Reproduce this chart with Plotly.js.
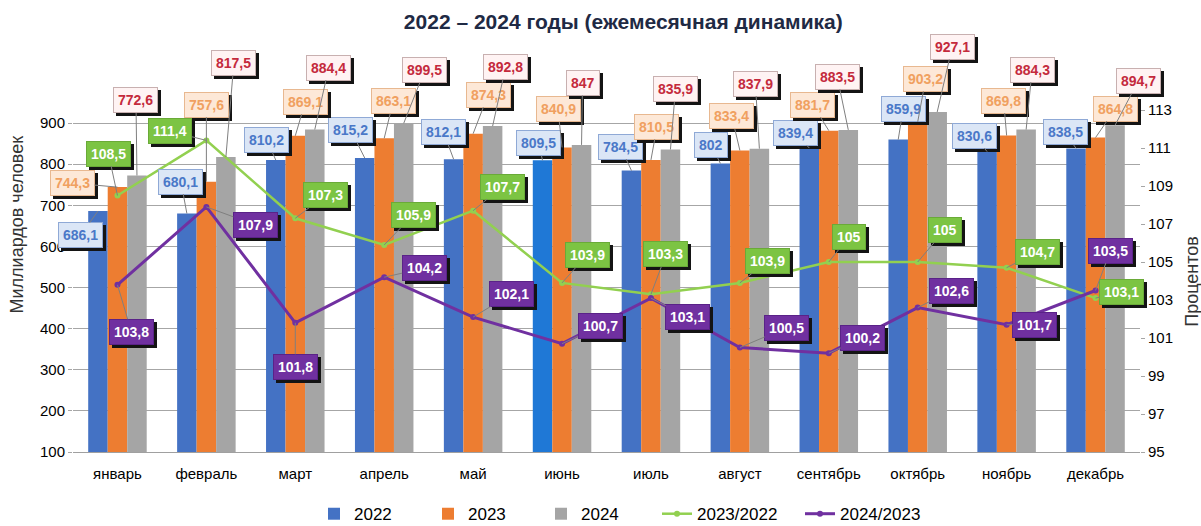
<!DOCTYPE html>
<html>
<head>
<meta charset="utf-8">
<script src="https://cdn.plot.ly/plotly-3.0.1.min.js"></script>
<style>
  html, body { margin: 0; padding: 0; background: #ffffff; }
  #chart { width: 1201px; height: 526px; }
</style>
</head>
<body>
<div id="chart"></div>
<script>
// months and values
const months = ['январь', 'февраль', 'март', 'апрель', 'май', 'июнь',
                'июль', 'август', 'сентябрь', 'октябрь', 'ноябрь', 'декабрь'];
const y2022 = [686.1, 680.1, 810.2, 815.2, 812.1, 809.5, 784.5, 802, 839.4, 859.9, 830.6, 838.5];
const y2023 = [744.3, 757.6, 869.1, 863.1, 874.3, 840.9, 810.5, 833.4, 881.7, 903.2, 869.8, 864.8];
const y2024 = [772.6, 817.5, 884.4, 899.5, 892.8, 847, 835.9, 837.9, 883.5, 927.1, 884.3, 894.7];
const r2023_2022 = [108.5, 111.4, 107.3, 105.9, 107.7, 103.9, 103.3, 103.9, 105, 105, 104.7, 103.1];
const r2024_2023 = [103.8, 107.9, 101.8, 104.2, 102.1, 100.7, 103.1, 100.5, 100.2, 102.6, 101.7, 103.5];
const leftTicks = [100, 200, 300, 400, 500, 600, 700, 800, 900];
const rightTicks = [95, 97, 99, 101, 103, 105, 107, 109, 111, 113];

// label box offsets (px) from the point, by hand
const off2022 = [[-17,24],[-6,-32],[-9,-20],[-14,-28],[-10,-27],[-4,-17],[-11,-24],[-9,-18],[-14,-15],[5,-31],[-13,-16],[-11,-16]];
const off2023 = [[-45,-4],[0,-77],[10,-34],[9,-37],[15,-39],[-4,-38],[6,-33],[-8,-34],[-16,-26],[8,-43],[-3,-35],[20,-29]];
const off2024 = [[-1,-75],[8,-94],[14,-62],[21,-53],[13,-59],[1,-62],[5,-60],[-4,-65],[-11,-53],[15,-65],[6,-60],[23,-44]];
const offG = [[-9,-42],[-36,-9],[30,-23],[29,-30],[29,-24],[25,-28],[15,-40],[28,-22],[20,-25],[27,-32],[31,-16],[26,-6]];
const offP = [[14,47],[49,18],[0,44],[40,-9],[38,-23],[38,-18],[37,19],[47,-20],[34,-15],[34,-17],[28,0],[15,-40]];

const FONT = '"Liberation Sans", Arial, sans-serif';
const margin = { l: 73, r: 61, t: 82, b: 74, autoexpand: false };
const bargap = 0.342;
const plotW = 1201 - margin.l - margin.r;
const slot = plotW / months.length * (1 - bargap) / 3;
const px2x = p => (p - margin.l) / plotW;

const blue2022 = months.map((m, i) => i === 5 ? '#1f78d6' : '#4472c4');

const traces = [
    { x: months, y: y2022, type: 'bar', name: '2022', legend: 'legend', marker: { color: blue2022 } },
    { x: months, y: y2023, type: 'bar', name: '2023', legend: 'legend2', marker: { color: '#ed7d31' } },
    { x: months, y: y2024, type: 'bar', name: '2024', legend: 'legend3', marker: { color: '#a5a5a5' } },
    { x: months, y: r2023_2022, type: 'scatter', mode: 'lines+markers', name: '2023/2022', yaxis: 'y2',
      legend: 'legend4', line: { color: '#92d050', width: 2.5 }, marker: { color: '#92d050', size: 6 } },
    { x: months, y: r2024_2023, type: 'scatter', mode: 'lines+markers', name: '2024/2023', yaxis: 'y2',
      legend: 'legend5', line: { color: '#7030a0', width: 3 }, marker: { color: '#7030a0', size: 6 } }
];

const fmt = v => String(v).replace('.', ',');

const annotations = [];
function addLabels(values, offs, yref, shift, bg, fg, border) {
    values.forEach((v, i) => {
        const base = {
            x: months[i], y: v, xref: 'x', yref: yref,
            text: fmt(v), showarrow: true, arrowhead: 0, arrowwidth: 1, standoff: 0,
            ax: offs[i][0], ay: offs[i][1],
            borderpad: 4, borderwidth: 1,
            font: { family: FONT, size: 14, weight: 'bold', color: fg }
        };
        // shadow box first
        annotations.push(Object.assign({}, base, {
            xshift: shift + 3, yshift: -3,
            bgcolor: '#141414', bordercolor: '#141414',
            arrowcolor: 'rgba(0,0,0,0)', font: Object.assign({}, base.font, { color: '#141414' })
        }));
        annotations.push(Object.assign({}, base, {
            xshift: shift, bgcolor: bg, bordercolor: border, arrowcolor: '#7f7f7f'
        }));
    });
}
addLabels(y2022, off2022, 'y', -slot, '#dbe6f6', '#4a78c8', '#8fa9d6');
addLabels(y2023, off2023, 'y', 0, '#fde8d7', '#f0a060', '#e8b890');
addLabels(y2024, off2024, 'y', slot, '#fff3f3', '#c42a3c', '#c8b0b0');
addLabels(r2023_2022, offG, 'y2', 0, '#7cc443', '#ffffff', '#6aaa38');
addLabels(r2024_2023, offP, 'y2', 0, '#7030a0', '#ffffff', '#5a2288');

annotations.push({
    text: 'Миллиардов человек', xref: 'paper', yref: 'paper', x: px2x(17), y: 0.615,
    xanchor: 'center', yanchor: 'middle', textangle: -90, showarrow: false,
    font: { family: FONT, size: 18, color: '#333333' }
});
annotations.push({
    text: 'Процентов', xref: 'paper', yref: 'paper', x: px2x(1192), y: 0.46,
    xanchor: 'center', yanchor: 'middle', textangle: -90, showarrow: false,
    font: { family: FONT, size: 18, color: '#333333' }
});

// one small legend per entry so each sits where the reference has it
function legendAt(px) {
    return {
        orientation: 'h', x: px2x(px), xanchor: 'left', y: -0.168, yanchor: 'middle',
        font: { family: FONT, size: 17 }, itemwidth: 30, bgcolor: 'rgba(0,0,0,0)'
    };
}

const layout = {
    width: 1201, height: 526,
    margin: margin,
    paper_bgcolor: '#ffffff', plot_bgcolor: '#ffffff',
    font: { family: FONT, size: 15, color: '#000000' },
    title: {
        text: '2022 – 2024 годы (ежемесячная динамика)',
        x: 0.519, xanchor: 'center', y: 0.958, yanchor: 'middle',
        font: { family: FONT, size: 21, weight: 'bold', color: '#1f2a44' }
    },
    barmode: 'group', bargap: bargap, bargroupgap: 0,
    showlegend: true,
    legend: legendAt(314),
    legend2: legendAt(428),
    legend3: legendAt(541),
    legend4: legendAt(657),
    legend5: legendAt(800),
    xaxis: {
        type: 'category', range: [-0.5, months.length - 0.5], showgrid: false, ticks: '',
        showline: true, linecolor: '#a0a0a0', linewidth: 1, ticklabelstandoff: 8,
        tickfont: { family: FONT, size: 15 }
    },
    yaxis: {
        range: [100, 1000], tickvals: leftTicks, showgrid: true, gridcolor: '#a6a6a6',
        gridwidth: 1, zeroline: false, ticks: 'outside', ticklen: 4, tickcolor: '#a6a6a6',
        tickfont: { family: FONT, size: 15 }
    },
    yaxis2: {
        range: [95, 95 + 370 / 19], tickvals: rightTicks, overlaying: 'y', side: 'right',
        showgrid: false, zeroline: false, ticks: 'outside', ticklen: 4, tickcolor: '#a6a6a6',
        tickfont: { family: FONT, size: 15 }
    },
    annotations: annotations
};

Plotly.newPlot('chart', traces, layout, { displayModeBar: false, staticPlot: true });
</script>
</body>
</html>
